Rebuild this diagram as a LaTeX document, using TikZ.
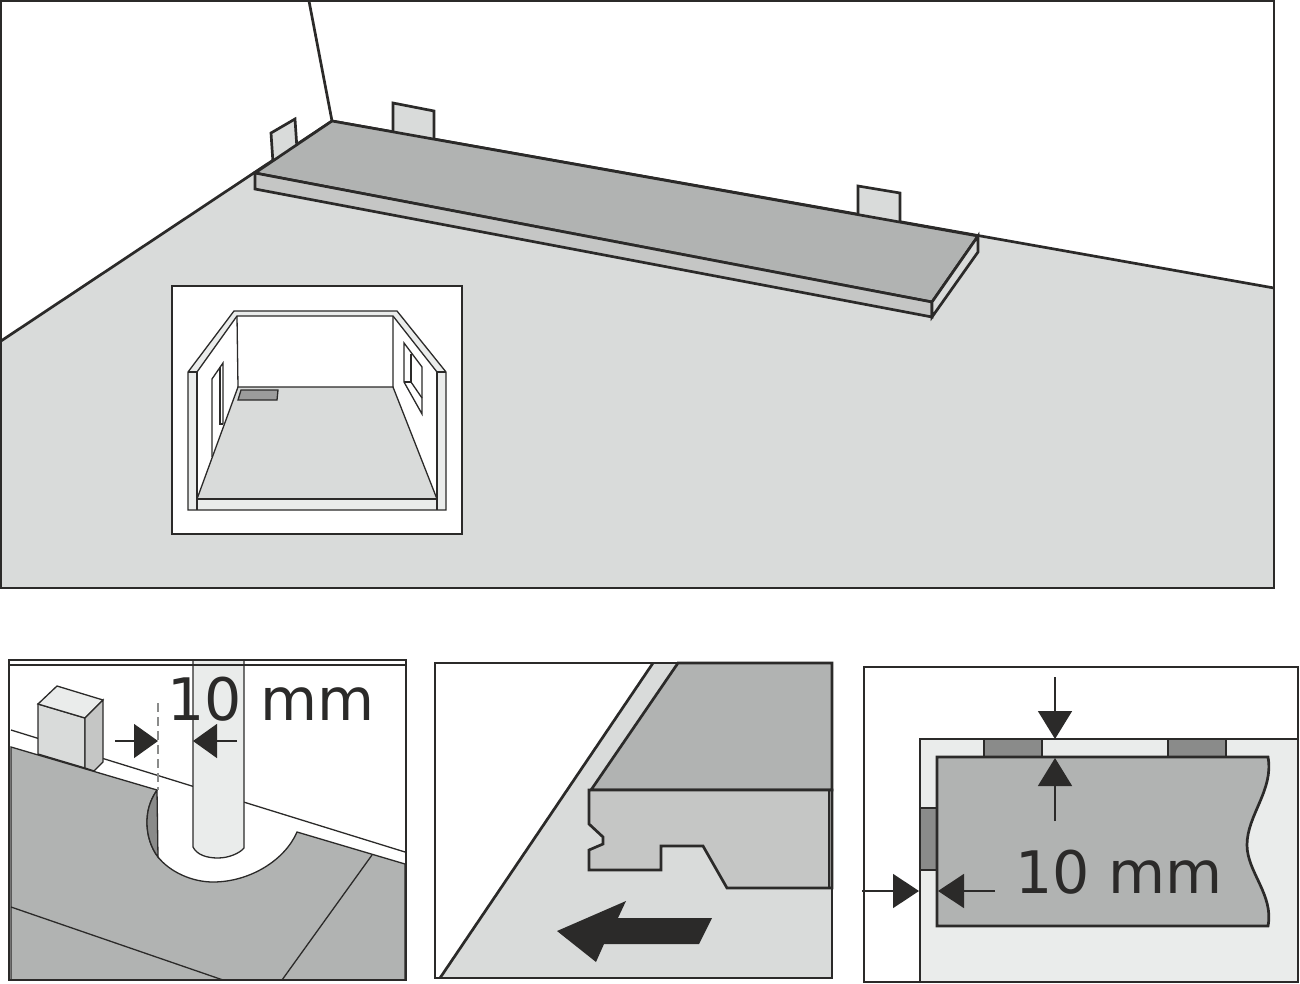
\documentclass[tikz,border=0pt]{standalone}
\usepackage{fontspec}
\setmainfont{DejaVu Sans}
\usetikzlibrary{arrows.meta}

\definecolor{inkcol}{HTML}{2B2A29}
\definecolor{floorcol}{HTML}{D9DBDA}
\definecolor{boardcol}{HTML}{B1B3B2}
\definecolor{sidecol}{HTML}{C5C6C5}
\definecolor{palecol}{HTML}{EAECEB}
\definecolor{spacercol}{HTML}{8A8B8A}

\tikzset{
    frameline/.style={draw=inkcol, line width=2.8pt},
    heavyline/.style={draw=inkcol, line width=2.7pt},
    fineline/.style={draw=inkcol, line width=1.3pt},
    dimarrow/.style={draw=inkcol, line width=1.6pt, -{Triangle[length=#1, width=34pt, fill=inkcol]}},
    dimarrow/.default=26pt,
    dimtext/.style={text=inkcol, inner sep=0pt, anchor=base west, font=\fontsize{58.6}{58.6}\selectfont},
}

\begin{document}
\begin{tikzpicture}[x=1pt, y=-1pt]
    \useasboundingbox (0,0) rectangle (1300,984);

    % Large view: floor
    \fill[floorcol] (1,341) -- (332,121) -- (1274,288) -- (1274,588) -- (1,588) -- cycle;
    \draw[heavyline] (309,1) -- (332,121);
    \draw[heavyline] (1,341) -- (332,121) -- (1274,288);

    % Large view: spacers behind the board
    \foreach \a/\b/\c/\d/\s in {271/133/295/119/2, 393/103/434/111/0, 858/186/900/193/0} {
        \filldraw[heavyline, fill=floorcol] (\a,\b) -- (\c,\d) -- (\c+\s,\d+30) -- (\a+\s,\b+30) -- cycle;
    }

    % Large view: first board
    \filldraw[heavyline, fill=boardcol] (332,121) -- (978,236) -- (932,302) -- (255,173) -- cycle;
    \filldraw[heavyline, fill=sidecol] (255,173) -- (932,302) -- (932,317) -- (255,189) -- cycle;
    \filldraw[heavyline, fill=floorcol] (932,302) -- (978,236) -- (978,252) -- (932,317) -- cycle;
    \draw[frameline] (1,1) rectangle (1274,588);

    % Room inset
    \filldraw[frameline, fill=white] (172,286) rectangle (462,534);
    \filldraw[fineline, fill=palecol] (188,372) -- (234,311) -- (397,311) -- (446,372) -- (446,510)
        -- (188,510) -- cycle;
    \filldraw[fineline, fill=white] (197,372) -- (237,316) -- (393,316) -- (437,372) -- (437,499)
        -- (197,499) -- cycle;
    \filldraw[fineline, fill=floorcol] (238,387) -- (393,387) -- (437,499) -- (197,499) -- cycle;
    \draw[fineline] (237,316) -- (238,387) (393,316) -- (393,387);
    \draw[fineline] (197,372) -- (188,372) (437,372) -- (446,372);
    \draw[fineline] (197,372) -- (197,510) (437,372) -- (437,510) (197,499) -- (437,499);
    \filldraw[fineline, fill=spacercol!85!white] (241,390) -- (278,390) -- (277,400) -- (238,400) -- cycle;

    % Room inset: door and window
    \draw[fineline] (212,457) -- (212,379) -- (223,363) -- (223,424);
    \draw[fineline] (220,367) -- (220,424) -- (223,424);
    \draw[fineline] (404,343) -- (422,367) -- (422,414) -- (404,382) -- cycle;
    \draw[fineline] (411,354) -- (411,382) -- (404,382);
    \draw[fineline] (411,382) -- (422,398);

    % Detail at the pipe: block, wall line, board
    \draw[fineline] (11,730) -- (405,852);
    \filldraw[fineline, fill=floorcol] (38,704) -- (85,718) -- (85,768) -- (38,754) -- cycle;
    \filldraw[fineline, fill=palecol] (38,704) -- (57,686) -- (103,700) -- (85,718) -- cycle;
    \filldraw[fineline, fill=sidecol] (85,718) -- (103,700) -- (103,762) -- (94,771) -- (85,768) -- cycle;
    \filldraw[fineline, fill=boardcol] (11,747) -- (157,790)
        .. controls (149,802) and (147,812) .. (147,823)
        .. controls (147,835) and (151,848) .. (158,857)
        .. controls (170,872) and (192,882) .. (213,882)
        .. controls (250,882) and (285,860) .. (297,832)
        -- (405,864) -- (405,980) -- (11,980) -- cycle;
    \filldraw[fineline, fill=spacercol] (157,790)
        .. controls (149,802) and (147,812) .. (147,823)
        .. controls (147,835) and (151,848) .. (158,857) -- cycle;
    \draw[fineline] (11,907) -- (223,980) (372,855) -- (282,980);

    % Detail at the pipe: pipe
    \filldraw[fineline, fill=palecol] (193,661) -- (193,847)
        .. controls (197,855) and (207,858) .. (218,858)
        .. controls (229,858) and (240,853) .. (244,848) -- (244,661);
    \draw[draw=spacercol, line width=1.6pt, dash pattern=on 9pt off 5pt] (158,703) -- (158,790);

    % Detail at the pipe: dimension
    \coordinate (pipeL) at (115,741);
    \coordinate (pipeLtip) at (158,741);
    \coordinate (pipeR) at (237,741);
    \coordinate (pipeRtip) at (193,741);
    \draw[dimarrow=24pt] (pipeL) -- (pipeLtip);
    \draw[dimarrow=24pt] (pipeR) -- (pipeRtip);
    \node[dimtext] (pipelabel) at (167,720) {10 mm};
    \draw[frameline] (9,660) rectangle (406,980);
    \draw[frameline] (9,665) -- (406,665);

    % Detail of the joint: floor and board
    \fill[floorcol] (653,663) -- (832,663) -- (832,978) -- (440,978) -- cycle;
    \draw[heavyline] (653,663) -- (440,978);
    \filldraw[heavyline, fill=boardcol] (678,663) -- (832,663) -- (832,790) -- (591,790) -- cycle;
    \filldraw[heavyline, fill=sidecol] (589,790) -- (832,790) -- (832,888) -- (727,888) -- (703,846)
        -- (661,846) -- (661,870) -- (589,870) -- (589,850) -- (603,844) -- (603,837) -- (589,824) -- cycle;
    \draw[heavyline] (829,790) -- (829,888);
    \draw[frameline] (435,663) rectangle (832,978);

    % Detail of the joint: push direction
    \fill[inkcol] (557,931) -- (626,901) -- (618,918) -- (712,918) -- (699,944) -- (604,944) -- (596,962) -- cycle;

    % Plan view: room, spacers, board
    \filldraw[heavyline, fill=palecol] (920,982) -- (920,739) -- (1298,739) -- (1298,982) -- cycle;
    \foreach \a/\b/\c/\d in {984/739/1042/757, 1168/739/1226/757, 920/808/937/870} {
        \filldraw[heavyline, fill=spacercol] (\a,\b) rectangle (\c,\d);
    }
    \filldraw[heavyline, fill=boardcol] (937,757) -- (1268,757)
        .. controls (1274,790) and (1247,815) .. (1247,845)
        .. controls (1247,872) and (1274,895) .. (1268,926) -- (937,926) -- cycle;
    \draw[frameline] (864,667) rectangle (1298,982);

    % Plan view: dimensions
    \coordinate (gapT) at (1055,677);
    \coordinate (gapTtip) at (1055,739);
    \coordinate (gapB) at (1055,821);
    \coordinate (gapBtip) at (1055,758);
    \coordinate (gapL) at (862,891);
    \coordinate (gapLtip) at (919,891);
    \coordinate (gapR) at (995,891);
    \coordinate (gapRtip) at (938,891);
    \draw[dimarrow=28pt] (gapT) -- (gapTtip);
    \draw[dimarrow=28pt] (gapB) -- (gapBtip);
    \draw[dimarrow] (gapL) -- (gapLtip);
    \draw[dimarrow] (gapR) -- (gapRtip);
    \node[dimtext] (planlabel) at (1015,893) {10 mm};
\end{tikzpicture}
\end{document}
